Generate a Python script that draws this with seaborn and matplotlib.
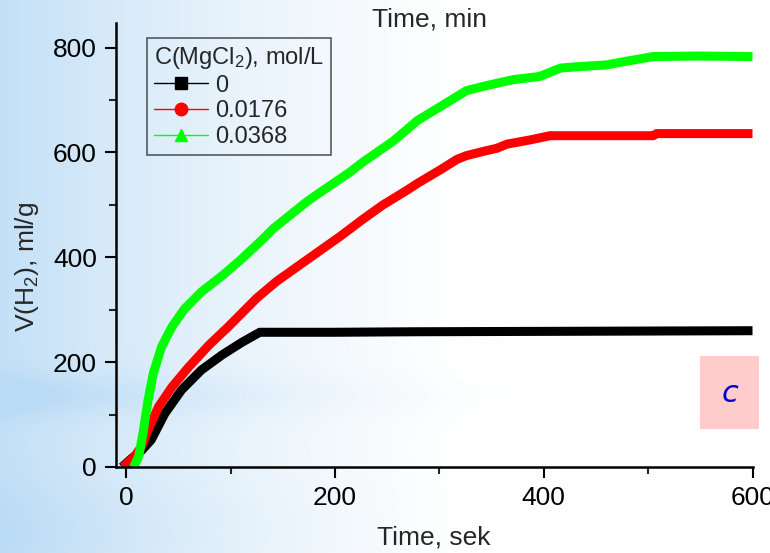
import numpy as np
import pandas as pd
import matplotlib
matplotlib.use("Agg")
import matplotlib.pyplot as plt
from matplotlib.lines import Line2D
from matplotlib.patches import Rectangle
import seaborn as sns

# Hydrogen evolution curves, V(H2) in ml/g versus time in seconds
t_0 = [-4, 5, 15, 24, 37, 53, 72, 92, 111, 128, 200, 275, 444, 600]
v_0 = [0, 16, 32, 52, 102, 147, 185, 214, 238, 257, 257, 258, 259, 260]

t_0176 = [-3, 8, 15, 21, 31, 44, 60, 79, 98, 109, 125, 144, 173, 205, 227,
          246, 269, 279, 301, 317, 326, 342, 355, 365, 387, 406, 505, 508, 600]
v_0176 = [0, 20, 40, 71, 115, 153, 191, 232, 268, 290, 322, 354, 395, 440, 473,
          500, 528, 541, 567, 587, 594, 602, 608, 616, 624, 632, 632, 636, 636]

t_0368 = [7, 12, 16, 21, 26, 34, 44, 56, 72, 92, 109, 130, 141, 173, 183, 214,
          227, 256, 279, 303, 326, 342, 355, 371, 396, 416, 435, 460, 476, 505,
          547, 600]
v_0368 = [0, 20, 64, 128, 179, 230, 268, 302, 334, 365, 394, 433, 455, 506, 520,
          562, 582, 622, 661, 690, 718, 726, 732, 739, 745, 761, 764, 767, 773,
          783, 784, 783]

labels = ["0", "0.0176", "0.0368"]
colors = ["#000000", "#ff0000", "#00ff00"]
markers = ["s", "o", "^"]

x_ticks = [0, 200, 400, 600]
y_ticks = [0, 200, 400, 600, 800]

df = pd.concat([
    pd.DataFrame({"t": t_0, "v": v_0, "c": labels[0]}),
    pd.DataFrame({"t": t_0176, "v": v_0176, "c": labels[1]}),
    pd.DataFrame({"t": t_0368, "v": v_0368, "c": labels[2]}),
], ignore_index=True)

sns.set_theme(style="ticks")
plt.rcParams["font.family"] = ["Liberation Sans", "DejaVu Sans"]
plt.rcParams["mathtext.fontset"] = "custom"
plt.rcParams["mathtext.rm"] = "Liberation Sans"
plt.rcParams["mathtext.it"] = "Liberation Sans:italic"
plt.rcParams["mathtext.bf"] = "Liberation Sans:bold"

W, H = 770, 553
fig = plt.figure(figsize=(W / 100, H / 100), dpi=100)

# soft blue backdrop: fades from the left edge, with a pale horizontal band
xx, yy = np.meshgrid(np.arange(W), np.arange(H))
a = np.clip(1 - xx / 480.0, 0, 1) ** 1.4 * 0.85
band = np.exp(-((yy - 395) / 22.0) ** 2) * np.clip(1 - xx / 600.0, 0, 1) ** 1.5 * 0.3
low = np.exp(-((yy - 530) / 50.0) ** 2) * np.clip(1 - xx / 450.0, 0, 1) * 0.15
a = np.clip(a + band + low, 0, 1)
base = np.array([186, 219, 245]) / 255.0
img = (1 - a[..., None]) * 1.0 + a[..., None] * base
bg = fig.add_axes([0, 0, 1, 1], zorder=-10)
bg.imshow(img, aspect="auto", extent=[0, 1, 0, 1], origin="upper")
bg.axis("off")

ax = fig.add_axes([116.4 / W, 1 - 467 / H, (752.5 - 116.4) / W, (467 - 23) / H])
ax.set_facecolor("none")

sns.lineplot(data=df, x="t", y="v", hue="c", palette=dict(zip(labels, colors)),
             linewidth=6.5, legend=False, ax=ax, sort=False,
             solid_capstyle="butt", solid_joinstyle="round")

ax.set_xlim(-9.4, 600)
ax.set_ylim(0, 847)
ax.set_xticks(x_ticks)
ax.set_yticks(y_ticks)
ax.set_xticks([100, 300, 500], minor=True)
ax.set_yticks([100, 300, 500, 700], minor=True)
ax.tick_params(axis="both", which="major", direction="out", length=8, width=1.5,
               labelsize=19, colors="black", pad=6)
ax.tick_params(axis="both", which="minor", direction="out", length=5, width=1.5)
for s in ["top", "right"]:
    ax.spines[s].set_visible(False)
for s in ["left", "bottom"]:
    ax.spines[s].set_linewidth(1.8)
    ax.spines[s].set_color("black")

ax.set_xlabel("")
ax.set_ylabel("")
fig.text(27 / W, 1 - 267 / H, "V(H$_2$), ml/g", rotation=90, ha="center",
         va="center", fontsize=19)
fig.text(434 / W, 1 - 537 / H, "Time, sek", ha="center", va="center", fontsize=19)
fig.text(430 / W, 1 - 20 / H, "Time, min", ha="center", va="center", fontsize=19)

handles = [Line2D([0], [0], color=c, lw=1, marker=m, markersize=9,
                  markerfacecolor=c, markeredgecolor=c)
           for c, m in zip(colors, markers)]
leg = ax.legend(handles, labels, title="C(MgCl$_2$), mol/L", loc="upper left",
                bbox_to_anchor=(0.048, 0.966), borderaxespad=0, fontsize=17,
                title_fontsize=17, frameon=True, fancybox=False,
                edgecolor="#333333", facecolor="none", handlelength=2.3,
                handletextpad=0.3, labelspacing=0.15, borderpad=0.3)
leg.get_frame().set_linewidth(1.2)
leg._legend_box.align = "left"

# panel letter
fig.patches.append(Rectangle((700 / W, 1 - 429 / H), 59 / W, 73 / H,
                             transform=fig.transFigure, facecolor="#ffcccc",
                             edgecolor="none", zorder=5))
fig.text(730 / W, 1 - 394 / H, "c", ha="center", va="center", fontsize=22,
         style="italic", color="#0000cc", family="DejaVu Sans", zorder=6)

fig.savefig("out.png", dpi=100)
